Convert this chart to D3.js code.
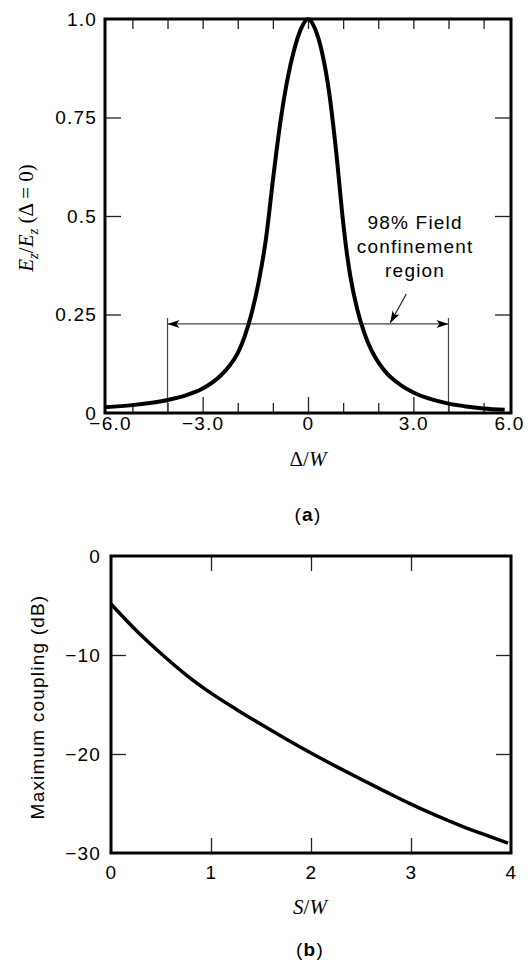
<!DOCTYPE html>
<html>
<head>
<meta charset="utf-8">
<script src="https://cdn.jsdelivr.net/npm/d3@7"></script>
<style>
  body { margin: 0; background: #fff; }
  svg text { font-family: "Liberation Sans", Arial, sans-serif; font-size: 19px; letter-spacing: 1.2px; fill: #000; }
  svg text.serif { font-family: "Liberation Serif", "Times New Roman", serif; font-size: 21px; letter-spacing: 0; }
</style>
</head>
<body>
<script>
// (a) normalised field vs offset
var fieldX = [-5.78, -5, -4.5, -4, -3.5, -3, -2.5, -2.25, -2, -1.8, -1.6, -1.4, -1.2, -1, -0.8, -0.6, -0.4, -0.2, 0,
              0.2, 0.4, 0.6, 0.8, 1, 1.1, 1.2, 1.4, 1.6, 1.8, 2, 2.25, 2.5, 3, 3.5, 4, 4.5, 5, 5.6];
var fieldY = [0.0145, 0.02, 0.0255, 0.033, 0.044, 0.062, 0.094, 0.118, 0.152, 0.195, 0.255, 0.335, 0.44, 0.59, 0.73, 0.84, 0.92, 0.975, 1,
              0.975, 0.915, 0.815, 0.665, 0.485, 0.41, 0.35, 0.264, 0.204, 0.16, 0.129, 0.1, 0.08, 0.052, 0.035, 0.0238, 0.0166, 0.0117, 0.0082];
var fieldXTicks = [-6, -3, 0, 3, 6];
var fieldXLabels = ["\u22126.0", "\u22123.0", "0", "3.0", "6.0"];
var fieldYTicks = [0, 0.25, 0.5, 0.75, 1];
var fieldYLabels = ["0", "0.25", "0.5", "0.75", "1.0"];
var confinement = [-4, 4];
var confinementLevel = 0.226;
var noteLines = ["98% Field", "confinement", "region"];

// (b) coupling vs spacing
var spacing = [0, 0.25, 0.5, 0.75, 1, 1.25, 1.5, 1.75, 2, 2.25, 2.5, 2.75, 3, 3.25, 3.5, 3.75, 3.97];
var coupling = [-4.85, -7.5, -9.85, -12.0, -13.85, -15.47, -17.0, -18.48, -19.9, -21.25, -22.55, -23.82, -25.06, -26.2, -27.25, -28.2, -29.0];
var spacingTicks = [0, 1, 2, 3, 4];
var couplingTicks = [0, -10, -20, -30];
var couplingLabels = ["0", "\u221210", "\u221220", "\u221230"];

var svg = d3.select("body").append("svg").attr("width", 530).attr("height", 960);

function ticks(g, axis) {
  g.call(axis);
  g.select(".domain").remove();
  g.selectAll(".tick line").attr("stroke", "#222").attr("stroke-width", 1.3);
  g.selectAll(".tick text").remove();
}

function labels(g, axis) {
  g.call(axis);
  g.select(".domain").remove();
  g.selectAll(".tick line").remove();
  g.selectAll(".tick text").attr("font-family", null).attr("font-size", null);
  return g;
}

// ---------- chart (a) ----------
var ax = d3.scaleLinear().domain([-5.78, 5.78]).range([105, 511]).clamp(true);
var ay = d3.scaleLinear().domain([0, 1]).range([413, 19]);
var ga = svg.append("g");

ticks(ga.append("g").attr("transform", "translate(0,413)"),
  d3.axisBottom(ax).tickValues([-3, 0, 3]).tickSize(-16));
ticks(ga.append("g").attr("transform", "translate(0,413)"),
  d3.axisBottom(ax).tickValues([-5, -4, -2, -1, 1, 2, 4, 5]).tickSize(-10));
ticks(ga.append("g").attr("transform", "translate(0,19)"),
  d3.axisTop(ax).tickValues(d3.range(-5, 6)).tickSize(-10));
ticks(ga.append("g").attr("transform", "translate(105,0)"),
  d3.axisLeft(ay).tickValues([0.25, 0.5, 0.75]).tickSize(-16));
ticks(ga.append("g").attr("transform", "translate(511,0)"),
  d3.axisRight(ay).tickValues([0.25, 0.5, 0.75]).tickSize(-16));

var axLabels = labels(ga.append("g").attr("transform", "translate(0,413)"),
  d3.axisBottom(ax).tickValues(fieldXTicks).tickSize(0).tickPadding(4)
    .tickFormat(function (d, i) { return fieldXLabels[i]; }));
// end labels sit a little inside the frame corners
axLabels.selectAll(".tick text").attr("dx", function (d) { return d < -5 ? 5 : d > 5 ? -2 : 0; });
labels(ga.append("g").attr("transform", "translate(105,0)"),
  d3.axisLeft(ay).tickValues(fieldYTicks).tickSize(0).tickPadding(8)
    .tickFormat(function (d, i) { return fieldYLabels[i]; }));

// confinement bracket
var bracketY = ay(confinementLevel);
confinement.forEach(function (c) {
  ga.append("line").attr("x1", ax(c)).attr("x2", ax(c))
    .attr("y1", bracketY - 6).attr("y2", ay(0))
    .attr("stroke", "#444").attr("stroke-width", 1.2);
});
ga.append("line").attr("x1", ax(confinement[0])).attr("x2", ax(confinement[1]))
  .attr("y1", bracketY).attr("y2", bracketY)
  .attr("stroke", "#444").attr("stroke-width", 1.2);

function arrowHead(tx, ty, angle) {
  // angle: direction the arrow points to
  var p = [[0, 0], [-12, -4], [-9, 0], [-12, 4]];
  var c = Math.cos(angle), s = Math.sin(angle);
  return "M" + p.map(function (q) {
    return [tx + q[0] * c - q[1] * s, ty + q[0] * s + q[1] * c].join(",");
  }).join("L") + "Z";
}
ga.append("path").attr("d", arrowHead(ax(confinement[0]), bracketY, Math.PI)).attr("fill", "#000");
ga.append("path").attr("d", arrowHead(ax(confinement[1]), bracketY, 0)).attr("fill", "#000");

// pointer from note to bracket
var p0 = [ax(2.8), ay(0.302)], p1 = [ax(2.34), bracketY - 1];
ga.append("line").attr("x1", p0[0]).attr("y1", p0[1]).attr("x2", p1[0]).attr("y2", p1[1])
  .attr("stroke", "#222").attr("stroke-width", 1.2);
ga.append("path").attr("d", arrowHead(p1[0], p1[1], Math.atan2(p1[1] - p0[1], p1[0] - p0[0]))).attr("fill", "#000");

var note = ga.append("text").attr("text-anchor", "middle");
noteLines.forEach(function (t, i) {
  note.append("tspan").attr("x", ax(3.05)).attr("y", 229 + i * 24).text(t);
});

// field curve
ga.append("path")
  .datum(fieldX.map(function (d, i) { return [d, fieldY[i]]; }))
  .attr("fill", "none").attr("stroke", "#000").attr("stroke-width", 4)
  .attr("stroke-linejoin", "round")
  .attr("d", d3.line().x(function (d) { return ax(d[0]); }).y(function (d) { return ay(d[1]); })
    .curve(d3.curveMonotoneX));

ga.append("rect").attr("x", 105).attr("y", 19).attr("width", 406).attr("height", 394)
  .attr("fill", "none").attr("stroke", "#000").attr("stroke-width", 3);

var xt = ga.append("text").attr("class", "serif").attr("x", 308).attr("y", 466).attr("text-anchor", "middle");
xt.append("tspan").text("\u0394/");
xt.append("tspan").attr("font-style", "italic").text("W");

var yt = ga.append("text").attr("class", "serif").attr("transform", "translate(33,218) rotate(-90)")
  .attr("text-anchor", "middle");
yt.append("tspan").attr("font-style", "italic").text("E");
yt.append("tspan").attr("font-style", "italic").attr("font-size", 15).attr("dy", 5).text("z");
yt.append("tspan").attr("dy", -5).text("/");
yt.append("tspan").attr("font-style", "italic").text("E");
yt.append("tspan").attr("font-style", "italic").attr("font-size", 15).attr("dy", 5).text("z");
yt.append("tspan").attr("dy", -5).text(" (\u0394 = 0)");

var ta = ga.append("text").attr("x", 308).attr("y", 521).attr("text-anchor", "middle");
ta.append("tspan").text("(");
ta.append("tspan").attr("font-weight", "bold").text("a");
ta.append("tspan").text(")");

// ---------- chart (b) ----------
var bx = d3.scaleLinear().domain([0, 4]).range([111, 511]);
var by = d3.scaleLinear().domain([0, -30]).range([556, 853]);
var gb = svg.append("g");

ticks(gb.append("g").attr("transform", "translate(0,853)"),
  d3.axisBottom(bx).tickValues([1, 2, 3]).tickSize(-15));
ticks(gb.append("g").attr("transform", "translate(0,556)"),
  d3.axisTop(bx).tickValues([1, 2, 3]).tickSize(-15));
ticks(gb.append("g").attr("transform", "translate(111,0)"),
  d3.axisLeft(by).tickValues([-10, -20]).tickSize(-15));
ticks(gb.append("g").attr("transform", "translate(511,0)"),
  d3.axisRight(by).tickValues([-10, -20]).tickSize(-15));

labels(gb.append("g").attr("transform", "translate(0,853)"),
  d3.axisBottom(bx).tickValues(spacingTicks).tickSize(0).tickPadding(13).tickFormat(d3.format("d")));
labels(gb.append("g").attr("transform", "translate(111,0)"),
  d3.axisLeft(by).tickValues(couplingTicks).tickSize(0).tickPadding(10)
    .tickFormat(function (d, i) { return couplingLabels[i]; }));

gb.append("path")
  .datum(spacing.map(function (d, i) { return [d, coupling[i]]; }))
  .attr("fill", "none").attr("stroke", "#000").attr("stroke-width", 3.5)
  .attr("d", d3.line().x(function (d) { return bx(d[0]); }).y(function (d) { return by(d[1]); })
    .curve(d3.curveMonotoneX));

gb.append("rect").attr("x", 111).attr("y", 556).attr("width", 400).attr("height", 297)
  .attr("fill", "none").attr("stroke", "#000").attr("stroke-width", 3);

var st = gb.append("text").attr("class", "serif").attr("x", 310).attr("y", 914).attr("text-anchor", "middle");
st.append("tspan").attr("font-style", "italic").text("S");
st.append("tspan").text("/");
st.append("tspan").attr("font-style", "italic").text("W");

gb.append("text").attr("transform", "translate(44,707) rotate(-90)").attr("text-anchor", "middle")
  .text("Maximum coupling (dB)");

var tb = gb.append("text").attr("x", 310).attr("y", 956).attr("text-anchor", "middle");
tb.append("tspan").text("(");
tb.append("tspan").attr("font-weight", "bold").text("b");
tb.append("tspan").text(")");
</script>
</body>
</html>
